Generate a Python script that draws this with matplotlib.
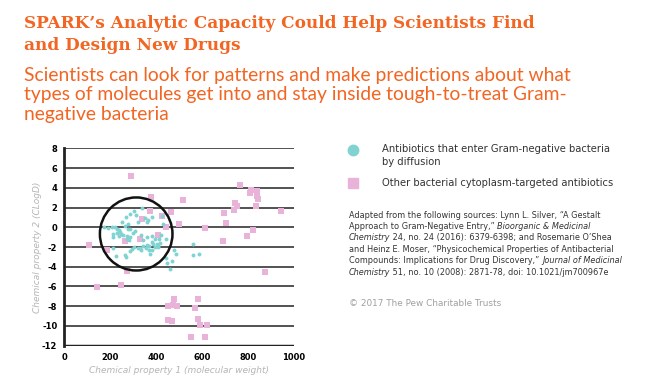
import matplotlib
matplotlib.use('Agg')
import matplotlib.pyplot as plt
from matplotlib.patches import Ellipse

# pink squares: other cytoplasm-targeted antibiotics
other_mw = [290, 376, 518, 372, 463, 338, 424, 441, 501, 612, 409, 329, 266, 106, 184,
            271, 144, 247, 478, 583, 450, 475, 489, 569, 451, 470, 583, 592, 620, 551, 614,
            766, 811, 807, 839, 839, 842, 745, 752, 834, 738, 695, 942, 702, 823, 795, 690, 874]
other_logd = [5.2, 3.03, 2.76, 1.68, 1.58, 0.84, 1.1, 0.06, 0.33, -0.04, -0.78, -1.22, -1.42, -1.83, -2.3,
              -4.43, -6.02, -5.82, -7.24, -7.24, -8.01, -7.84, -8.01, -8.15, -9.40, -9.46, -9.33, -9.90, -9.90, -11.09, -11.15,
              4.32, 3.81, 3.44, 3.68, 3.2, 2.83, 2.49, 2.12, 2.19, 1.72, 1.48, 1.62, 0.47, -0.28, -0.92, -1.36, -4.5]

# teal dots: antibiotics entering by diffusion
diff_mw = [338, 302, 287, 313, 268, 321, 353, 364, 382, 358, 251, 424, 428, 277,
           174, 192, 208, 222, 228, 237, 242, 263, 276, 287, 308, 298, 248, 228, 213, 237,
           257, 271, 286, 274, 283, 213, 334, 361, 380, 395, 344, 412, 443, 422,
           358, 367, 380, 388, 402, 409, 417, 393, 354, 341, 329, 370, 382, 374, 332, 319,
           296, 284, 302, 213, 264, 270, 225, 406,
           478, 485, 470, 444, 446, 460, 559, 559, 586]
diff_logd = [1.92, 1.65, 1.35, 1.28, 1.0, 0.57, 0.97, 0.74, 1.0, 0.5, 0.53, 1.14, 0.33, 0.33,
             -0.01, -0.11, 0.06, -0.01, -0.21, -0.28, -0.45, 0.13, -0.21, -0.21, -0.38, -0.61, -0.68, -0.61, -0.72, -0.88,
             -0.82, -0.85, -0.99, -1.22, -1.32, -0.95, -0.75, -0.95, -0.85, -1.19, -1.32, -1.19, -1.15, -0.82,
             -1.76, -1.93, -1.49, -1.66, -1.73, -1.86, -1.63, -2.0, -2.13, -1.9, -2.13, -2.27, -2.3, -2.74, -2.3, -2.13,
             -2.2, -2.4, -2.0, -2.13, -2.81, -3.05, -2.88, -2.03,
             -2.3, -2.67, -3.38, -3.15, -3.59, -4.26, -1.66, -2.84, -2.74]

x_ticks = [0, 200, 400, 600, 800, 1000]
y_ticks = [8, 6, 4, 2, 0, -2, -4, -6, -8, -10, -12]

orange = '#f26522'
teal = '#80d3d1'
pink = '#e9b3d9'

fig = plt.figure(figsize=(6.5, 3.87), dpi=100)

fig.text(0.037, 0.962, "SPARK\u2019s Analytic Capacity Could Help Scientists Find\nand Design New Drugs",
         color=orange, fontsize=12.2, fontweight='bold', family='DejaVu Serif',
         va='top', ha='left', linespacing=1.38)
fig.text(0.037, 0.828, "Scientists can look for patterns and make predictions about what\n"
         "types of molecules get into and stay inside tough-to-treat Gram-\nnegative bacteria",
         color=orange, fontsize=13.9, family='Lato',
         va='top', ha='left', linespacing=1.2)

ax = fig.add_axes([0.0989, 0.1067, 0.3534, 0.5101])
ax.set_xlim(0, 1000)
ax.set_ylim(-12, 8)
for s in ['top', 'right', 'bottom']:
    ax.spines[s].set_visible(False)
ax.spines['left'].set_linewidth(2)
ax.spines['left'].set_color('#222222')
for yv in y_ticks:
    if yv == -12:
        ax.axhline(yv, color='#222222', lw=2.5, zorder=1)
    else:
        ax.axhline(yv, color='#444444', lw=1.3, zorder=1)

ax.scatter(other_mw, other_logd, marker='s', s=13, color=pink, lw=0, zorder=3)
ax.scatter(diff_mw, diff_logd, marker='o', s=8, color=teal, lw=0, zorder=3)
ax.add_patch(Ellipse((313, -0.68), 316, 7.4, fill=False, ec='#111111', lw=1.8, zorder=4))

ax.set_xticks(x_ticks)
ax.set_yticks(y_ticks)
ax.set_xticklabels([str(v) for v in x_ticks], fontsize=6, fontweight='bold')
ax.set_yticklabels([str(v) for v in y_ticks], fontsize=6, fontweight='bold')
ax.tick_params(length=0, pad=5)
ax.set_xlabel('Chemical property 1 (molecular weight)', fontsize=6.5, style='italic',
              color='#b5b5b5', labelpad=3)
ax.set_ylabel('Chemical property 2 (CLogD)', fontsize=6.5, style='italic',
              color='#b5b5b5', labelpad=0)

# legend
fig.add_artist(plt.Line2D([353 / 650], [1 - 150 / 387], marker='o', ms=7.5, color=teal,
                          lw=0, transform=fig.transFigure))
fig.add_artist(plt.Line2D([353 / 650], [1 - 183 / 387], marker='s', ms=7, color=pink,
                          lw=0, transform=fig.transFigure))
fig.text(382 / 650, 1 - 144.5 / 387, "Antibiotics that enter Gram-negative bacteria\nby diffusion",
         fontsize=7.2, color='#333333', va='top', ha='left', linespacing=1.3)
fig.text(382 / 650, 1 - 183 / 387, "Other bacterial cytoplasm-targeted antibiotics",
         fontsize=7.2, color='#333333', va='center', ha='left')

# source note with italic pieces
src_lines = [
    [("Adapted from the following sources: Lynn L. Silver, \u201cA Gestalt", 'normal')],
    [("Approach to Gram-Negative Entry,\u201d ", 'normal'), ("Bioorganic & Medicinal", 'italic')],
    [("Chemistry", 'italic'), (" 24, no. 24 (2016): 6379-6398; and Rosemarie O\u2019Shea", 'normal')],
    [("and Heinz E. Moser, \u201cPhysicochemical Properties of Antibacterial", 'normal')],
    [("Compounds: Implications for Drug Discovery,\u201d ", 'normal'), ("Journal of Medicinal", 'italic')],
    [("Chemistry", 'italic'), (" 51, no. 10 (2008): 2871-78, doi: 10.1021/jm700967e", 'normal')],
]
renderer = fig.canvas.get_renderer()
x0 = 349 / 650
for i, parts in enumerate(src_lines):
    y = 1 - (215 + i * 11.45) / 387
    x = x0
    for txt, st in parts:
        t = fig.text(x, y, txt, fontsize=5.9, style=st, color='#333333', va='center', ha='left')
        bb = t.get_window_extent(renderer=renderer)
        x += bb.width / fig.bbox.width

fig.text(x0, 1 - 304 / 387, "\u00a9 2017 The Pew Charitable Trusts", fontsize=6.4,
         color='#a0a0a0', va='center', ha='left')

fig.savefig('out.png', dpi=100)
